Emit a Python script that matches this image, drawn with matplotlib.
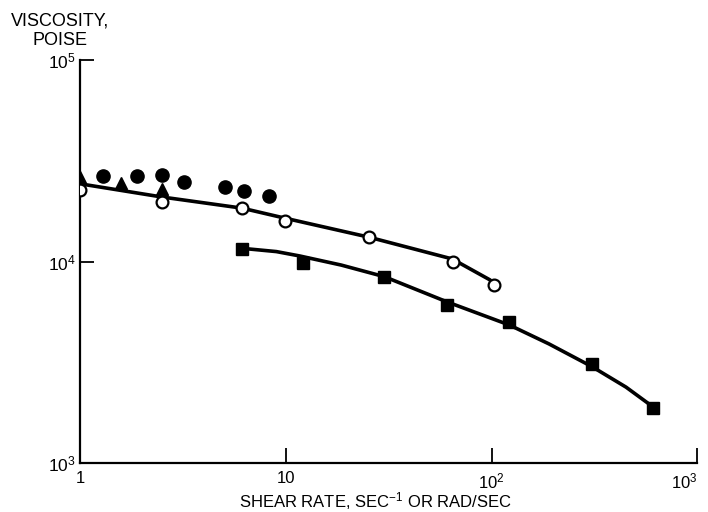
#!/usr/bin/env python3
"""
Viscosity vs shear rate (log-log), digitised points and hand-drawn curves.
"""
import numpy as np
import matplotlib
matplotlib.use('Agg')
import matplotlib.pyplot as plt

FONT = ['Liberation Sans', 'DejaVu Sans']
plt.rcParams['mathtext.fontset'] = 'custom'
plt.rcParams['mathtext.rm'] = 'Liberation Sans'
plt.rcParams['mathtext.it'] = 'Liberation Sans'
plt.rcParams['mathtext.bf'] = 'Liberation Sans:bold'

# filled circles
fc_x = [1.30, 1.89, 2.50, 3.2, 5.07, 6.27, 8.32]
fc_y = [2.66e4, 2.66e4, 2.69e4, 2.49e4, 2.35e4, 2.24e4, 2.12e4]

# filled triangles
tri_x = [1.0, 1.58, 2.50]
tri_y = [2.63e4, 2.45e4, 2.28e4]

# open circles
oc_x = [1.0, 2.50, 6.15, 9.93, 25.4, 64.6, 103]
oc_y = [2.26e4, 1.98e4, 1.84e4, 1.59e4, 1.32e4, 9.91e3, 7.65e3]

# filled squares
sq_x = [6.11, 12.1, 30.1, 60.6, 122, 307, 608]
sq_y = [1.15e4, 9.87e3, 8.41e3, 6.08e3, 5.03e3, 3.09e3, 1.87e3]

# curves
upper_x = [1.0, 2.50, 6.13, 9.93, 25.4, 64.3, 98.5]
upper_y = [2.43e4, 2.09e4, 1.84e4, 1.64e4, 1.32e4, 1.03e4, 8.09e3]
lower_x = [6.11, 9.0, 11.7, 18.6, 30.1, 60.6, 122, 190, 307, 450, 608]
lower_y = [1.163e4, 1.12e4, 1.065e4, 9.6e3, 8.41e3, 6.31e3, 4.84e3,
           3.9e3, 3.01e3, 2.38e3, 1.90e3]

x_ticks = [1, 10, 100, 1000]
x_labels = ['1', '10', r'$10^{2}$', r'$10^{3}$']
y_ticks = [1e3, 1e4, 1e5]
y_labels = [r'$10^{3}$', r'$10^{4}$', r'$10^{5}$']

fig = plt.figure(figsize=(7.08, 5.12), dpi=100)
ax = fig.add_axes([0.113, 0.0957, 0.872, 0.7871])

ax.plot(upper_x, upper_y, color='black', lw=2.6, solid_capstyle='round',
        solid_joinstyle='round', zorder=2)
ax.plot(lower_x, lower_y, color='black', lw=2.6, solid_capstyle='round',
        solid_joinstyle='round', zorder=2)

ax.plot(fc_x, fc_y, 'o', color='black', ms=9.5, zorder=3)
ax.plot(tri_x, tri_y, '^', color='black', ms=9, zorder=4)
ax.plot(oc_x, oc_y, 'o', mfc='white', mec='black', mew=1.6, ms=8.5, zorder=4)
ax.plot(sq_x, sq_y, 's', color='black', ms=8.5, zorder=4)

ax.set_xscale('log')
ax.set_yscale('log')
ax.set_xlim(1, 1000)
ax.set_ylim(1e3, 1e5)

ax.set_xticks(x_ticks)
ax.set_xticklabels(x_labels, family=FONT, fontsize=12)
ax.set_yticks(y_ticks)
ax.set_yticklabels(y_labels, family=FONT, fontsize=12.5)
ax.minorticks_off()
ax.tick_params(axis='x', direction='in', length=11, width=1.3, pad=6)
ax.tick_params(axis='y', direction='in', length=10, width=1.3, pad=3)
# keep the last x label inside the figure
ax.get_xticklabels()[-1].set_horizontalalignment('right')

for s in ['top', 'right']:
    ax.spines[s].set_visible(False)
for s in ['left', 'bottom']:
    ax.spines[s].set_linewidth(1.6)

ax.set_xlabel(r'SHEAR RATE, SEC$^{-1}$ OR RAD/SEC', family=FONT, fontsize=12)
ax.xaxis.set_label_coords(0.478, -0.068)
fig.text(60 / 708, 1 - 12 / 512, 'VISCOSITY,\nPOISE', family=FONT, fontsize=13,
         ha='center', va='top', linespacing=1.2)

fig.savefig('out.png', dpi=100)
